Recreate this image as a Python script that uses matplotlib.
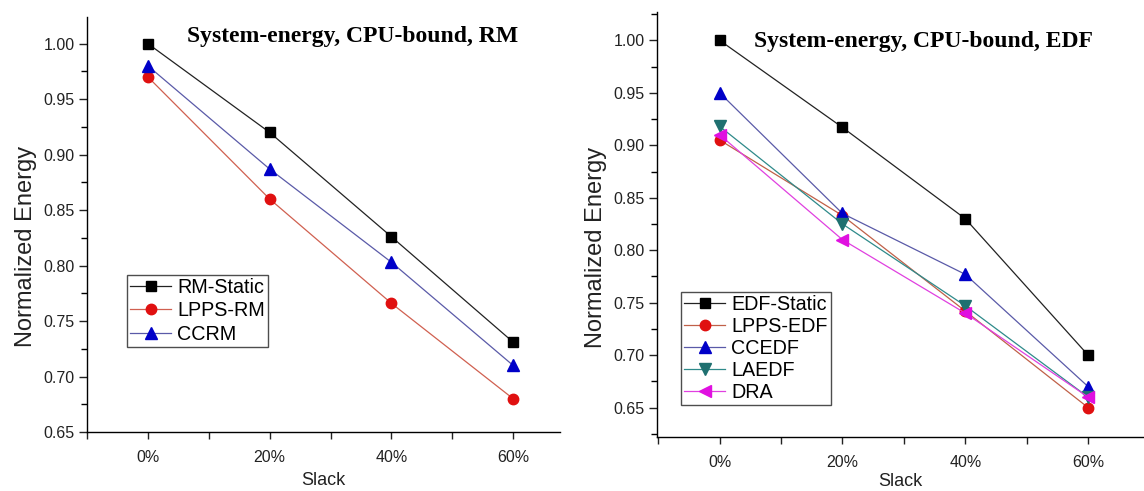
import matplotlib
matplotlib.use("Agg")
import matplotlib.pyplot as plt
from matplotlib.ticker import FixedLocator, MultipleLocator, FuncFormatter

slack = [0, 20, 40, 60]
slack_labels = ["0%", "20%", "40%", "60%"]

rm_static = [1.00, 0.92, 0.826, 0.731]
lpps_rm = [0.97, 0.86, 0.766, 0.68]
ccrm = [0.98, 0.887, 0.803, 0.71]

edf_static = [1.00, 0.917, 0.83, 0.70]
lpps_edf = [0.905, 0.833, 0.742, 0.65]
ccedf = [0.95, 0.835, 0.777, 0.67]
laedf = [0.918, 0.825, 0.747, 0.66]
dra = [0.91, 0.81, 0.74, 0.66]

plt.rcParams['font.family'] = ['Liberation Sans', 'DejaVu Sans']

fig = plt.figure(figsize=(11.44, 4.91), dpi=100)
W, H = 1144, 491

def make_ax(l, r, b, t):
    return fig.add_axes([l / W, 1 - b / H, (r - l) / W, (b - t) / H])

ax1 = make_ax(87, 560, 432, 17)
ax2 = make_ax(657, 1144, 437, 12)

def style(ax, xlim, ylim, ylab_xy, xlab_pad):
    ax.set_xlim(*xlim)
    ax.set_ylim(*ylim)
    for s in ['top', 'right']:
        ax.spines[s].set_visible(False)
    for s in ['left', 'bottom']:
        ax.spines[s].set_linewidth(1.0)
    ax.xaxis.set_major_locator(FixedLocator(slack))
    ax.set_xticklabels(slack_labels)
    ax.xaxis.set_minor_locator(FixedLocator([-10, 10, 30, 50]))
    ax.yaxis.set_major_locator(MultipleLocator(0.05))
    ax.yaxis.set_minor_locator(MultipleLocator(0.025))
    ax.yaxis.set_major_formatter(FuncFormatter(lambda v, p: f"{v:.2f}"))
    ax.tick_params(axis='x', which='both', direction='out', length=5, width=1, labelsize=11.5, pad=8, colors='#222222')
    ax.tick_params(axis='y', which='major', direction='out', length=6, width=1, labelsize=11.5, pad=3, colors='#222222')
    ax.tick_params(axis='y', which='minor', direction='out', length=4, width=1)
    ax.set_xlabel("Slack", fontsize=13, labelpad=xlab_pad, color='#222222')
    ax.set_ylabel("Normalized Energy", fontsize=17, color='#222222')
    ax.yaxis.set_label_coords(*ylab_xy)

ms = 7.5
ax1.plot(slack, rm_static, color='#222222', lw=0.9, marker='s', ms=ms, mfc='black', mec='black', label='RM-Static')
ax1.plot(slack, lpps_rm, color='#d06050', lw=0.9, marker='o', ms=ms, mfc='#e01010', mec='#e01010', label='LPPS-RM')
ax1.plot(slack, ccrm, color='#5a5aa8', lw=0.9, marker='^', ms=ms + 1, mfc='#0000c8', mec='#0000c8', label='CCRM')
style(ax1, (-10, 67.7), (0.65, 1.024), (-0.106, 0.446), 5)
ax1.text(0.561, 0.952, "System-energy, CPU-bound, RM", transform=ax1.transAxes, ha='center', va='center',
         fontsize=17, fontweight='bold', family='Liberation Serif')
leg1 = ax1.legend(loc='upper left', bbox_to_anchor=((127 - 87) / (560 - 87), (432 - 275) / (432 - 17)),
                  fontsize=14.2, frameon=True, fancybox=False, edgecolor='#222222', borderpad=0.15,
                  labelspacing=0.22, handlelength=2.1, handletextpad=0.3, borderaxespad=0)
leg1.get_frame().set_linewidth(1.0)

ax2.plot(slack, edf_static, color='#222222', lw=0.9, marker='s', ms=ms, mfc='black', mec='black', label='EDF-Static')
ax2.plot(slack, lpps_edf, color='#c06048', lw=0.9, marker='o', ms=ms, mfc='#e01010', mec='#e01010', label='LPPS-EDF')
ax2.plot(slack, ccedf, color='#5a5aa8', lw=0.9, marker='^', ms=ms + 1, mfc='#0000c8', mec='#0000c8', label='CCEDF')
ax2.plot(slack, laedf, color='#2e8a8a', lw=0.9, marker='v', ms=ms + 1, mfc='#1f7070', mec='#1f7070', label='LAEDF')
ax2.plot(slack, dra, color='#e040e0', lw=0.9, marker='<', ms=ms + 1, mfc='#e010e0', mec='#e010e0', label='DRA')
style(ax2, (-10.2, 69.1), (0.622, 1.027), (-0.103, 0.445), 2)
ax2.text(0.548, 0.93, "System-energy, CPU-bound, EDF", transform=ax2.transAxes, ha='center', va='center',
         fontsize=17, fontweight='bold', family='Liberation Serif')
leg2 = ax2.legend(loc='upper left', bbox_to_anchor=((681 - 657) / (1144 - 657), (437 - 292) / (437 - 12)),
                  fontsize=14.2, frameon=True, fancybox=False, edgecolor='#222222', borderpad=0.15,
                  labelspacing=0.15, handlelength=2.1, handletextpad=0.3, borderaxespad=0)
leg2.get_frame().set_linewidth(1.0)

fig.savefig("out.png", dpi=100)
